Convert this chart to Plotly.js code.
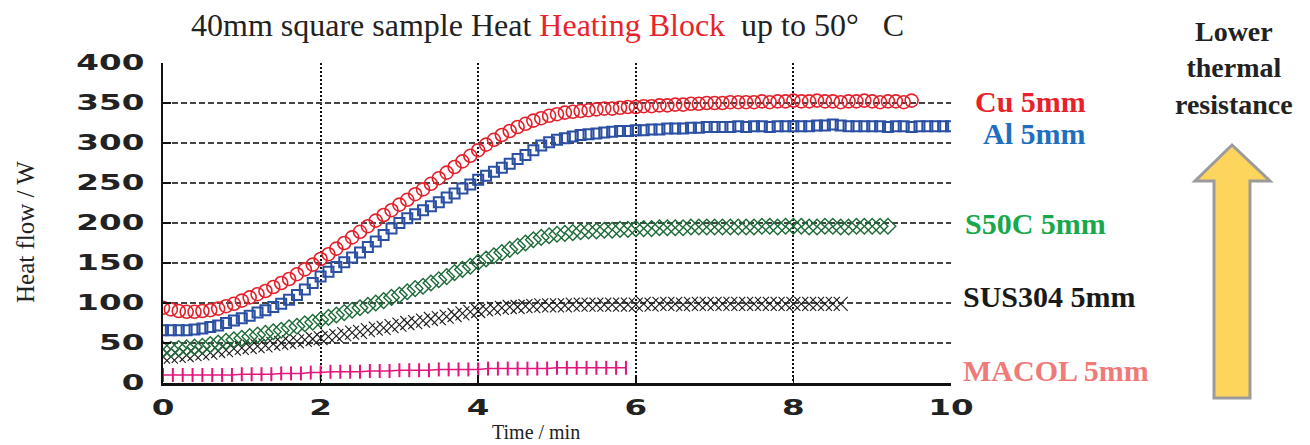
<!DOCTYPE html>
<html>
<head>
<meta charset="utf-8">
<script src="https://cdn.plot.ly/plotly-3.0.1.min.js"></script>
<style>
html,body{margin:0;padding:0;background:#fff;}
#chart{width:1310px;height:445px;}
</style>
</head>
<body>
<div id="chart"></div>
<script>
// ---- data ----
const minutes = [0.0,0.1,0.2,0.3,0.4,0.5,0.6,0.7,0.8,0.9,1.0,1.1,1.2,1.3,1.4,1.5,1.6,1.7,1.8,1.9,
  2.0,2.1,2.2,2.3,2.4,2.5,2.6,2.7,2.8,2.9,3.0,3.1,3.2,3.3,3.4,3.5,3.6,3.7,3.8,3.9,
  4.0,4.1,4.2,4.3,4.4,4.5,4.6,4.7,4.8,4.9,5.0,5.1,5.2,5.3,5.4,5.5,5.6,5.7,5.8,5.9,
  6.0,6.1,6.2,6.3,6.4,6.5,6.6,6.7,6.8,6.9,7.0,7.1,7.2,7.3,7.4,7.5,7.6,7.7,7.8,7.9,
  8.0,8.1,8.2,8.3,8.4,8.5,8.6,8.7,8.8,8.9,9.0,9.1,9.2,9.3,9.4,9.5,9.6,9.7,9.8,9.9,10.0];

const macolMinutes = [0,0.125,0.25,0.375,0.5,0.625,0.75,0.875,1,1.125,1.25,1.375,1.5,1.625,1.75,1.875,
  2,2.125,2.25,2.375,2.5,2.625,2.75,2.875,3,3.125,3.25,3.375,3.5,3.625,3.75,3.875,
  4,4.125,4.25,4.375,4.5,4.625,4.75,4.875,5,5.125,5.25,5.375,5.5,5.625,5.75,5.875];

const cu = [94,92,90,89,89,90,91,93,96,99,103,107,111,115,120,125,130,136,142,148,
  155,161,168,175,182,189,196,203,210,216,223,229,236,242,249,256,263,270,277,284,
  291,298,304,310,315,320,324,328,331,334,336,338,339,340,341,342,343,343,344,345,
  345,346,346,347,347,348,348,349,349,350,350,350,351,351,351,351,352,351,352,352,
  353,352,352,353,352,352,351,352,352,353,352,351,352,352,351,353];

const al = [66,66,66,66,67,68,70,72,75,78,81,84,88,91,95,99,104,110,117,125,
  133,139,145,151,157,163,170,177,185,193,200,206,211,216,221,226,232,237,243,248,
  254,259,264,269,274,280,285,291,297,301,304,306,308,310,311,312,313,314,315,315,
  316,316,317,317,318,318,318,319,319,320,320,320,320,321,320,321,321,320,321,321,
  321,321,321,322,322,323,322,321,321,321,321,321,320,321,321,320,321,321,321,321,321];

const s50c = [42,42,43,44,45,46,48,50,52,54,56,58,60,62,64,66,69,71,74,76,
  79,82,85,88,91,94,97,100,103,107,110,114,118,121,125,129,133,138,142,146,
  151,155,159,163,167,171,175,179,182,184,186,187,188,189,190,190,191,191,192,192,
  193,193,193,194,194,194,194,195,195,195,195,195,195,195,195,195,196,196,195,196,
  196,196,195,195,196,196,195,195,196,196,196,196,196];

const sus304 = [33,33,34,35,36,37,38,40,41,43,44,45,46,47,49,50,51,52,54,55,
  56,58,59,61,63,64,66,68,69,71,73,75,76,78,80,81,83,85,87,89,
  90,92,93,94,95,95,96,96,97,97,97,97,98,98,98,98,98,98,98,98,
  98,99,98,99,99,99,98,99,99,99,99,99,99,99,99,99,99,99,99,99,
  99,99,99,99,99,99,99];

const macol = [10,10,10,10,10,10,10,10,11,11,11,11,12,12,12,13,
  13,14,14,14,14,15,15,15,16,16,16,16,17,17,17,17,
  17,18,18,18,18,18,18,18,19,19,19,19,19,19,19,19];

const seriesLabels = ['Cu 5mm','Al 5mm','S50C 5mm','SUS304 5mm','MACOL 5mm'];
const xTickVals = [0,2,4,6,8,10];
const yTickVals = [0,50,100,150,200,250,300,350,400];

// ---- pixel helpers for placing page furniture ----
const L = 163, R = 951, T = 63, B = 383;
const px = x => (x - L) / (R - L);
const py = y => (B - y) / (B - T);

const traces = [
  {x: macolMinutes, y: macol, mode: 'lines+markers', name: seriesLabels[4],
   line: {color: '#e5147d', width: 1.5},
   marker: {symbol: 'line-ns-open', size: 10, color: '#e5147d', line: {color: '#e5147d', width: 2}}},
  {x: minutes.slice(0, sus304.length), y: sus304, mode: 'markers', name: seriesLabels[3],
   marker: {symbol: 'x-thin-open', size: 14, color: '#1a1a1a', line: {color: '#1a1a1a', width: 1.1}}},
  {x: minutes.slice(0, s50c.length), y: s50c, mode: 'markers', name: seriesLabels[2],
   marker: {symbol: 'diamond-open', size: 12, color: '#1d6b38', line: {color: '#1d6b38', width: 1.4}}},
  {x: minutes.slice(0, al.length), y: al, mode: 'markers', name: seriesLabels[1],
   marker: {symbol: 'square-open', size: 10, color: '#2a4fa3', line: {color: '#2a4fa3', width: 2}}},
  {x: minutes.slice(0, cu.length), y: cu, mode: 'markers', name: seriesLabels[0],
   marker: {symbol: 'circle-open', size: 13, color: '#e4212b', line: {color: '#e4212b', width: 1.6}}}
];

const serif = 'Liberation Serif, Times New Roman, serif';
const labelFont = (c) => ({family: serif, size: 30, color: c, weight: 'bold'});

const annotations = [
  {xref:'paper', yref:'paper', x: px(547), y: py(25), xanchor:'center', yanchor:'middle', showarrow:false,
   text: '40mm square sample Heat <span style="color:#e8232b">Heating Block</span>\u00a0\u00a0up to 50°\u00a0\u00a0\u00a0C',
   font: {family: serif, size: 32, color: '#222'}},
  {xref:'paper', yref:'paper', x: px(25), y: py(232), xanchor:'center', yanchor:'middle', showarrow:false,
   textangle: -90, text: 'Heat flow / W', font: {family: serif, size: 25, color: '#222'}},
  {xref:'paper', yref:'paper', x: px(536), y: py(432), xanchor:'center', yanchor:'middle', showarrow:false,
   text: 'Time / min', font: {family: serif, size: 20, color: '#222'}},
  {xref:'paper', yref:'paper', x: px(973), y: py(101), xanchor:'left', yanchor:'middle', showarrow:false,
   text: seriesLabels[0], font: labelFont('#e8212b')},
  {xref:'paper', yref:'paper', x: px(981), y: py(133), xanchor:'left', yanchor:'middle', showarrow:false,
   text: seriesLabels[1], font: labelFont('#1f6fbf')},
  {xref:'paper', yref:'paper', x: px(963), y: py(223), xanchor:'left', yanchor:'middle', showarrow:false,
   text: seriesLabels[2], font: labelFont('#18a84b')},
  {xref:'paper', yref:'paper', x: px(961), y: py(296), xanchor:'left', yanchor:'middle', showarrow:false,
   text: seriesLabels[3], font: labelFont('#1a1a1a')},
  {xref:'paper', yref:'paper', x: px(961), y: py(370), xanchor:'left', yanchor:'middle', showarrow:false,
   text: seriesLabels[4], font: labelFont('#f07a7a')},
  {xref:'paper', yref:'paper', x: px(1234), y: py(68), xanchor:'center', yanchor:'middle', showarrow:false,
   text: 'Lower<br>thermal<br>resistance', font: {family: serif, size: 28, color: '#222', weight: 'bold'}}
];

const arrowPts = [[1232,145],[1270,181],[1250,181],[1250,398],[1214,398],[1214,181],[1195,181]];
const arrowPath = 'M ' + arrowPts.map(p => px(p[0]) + ',' + py(p[1])).join(' L ') + ' Z';

const layout = {
  width: 1310, height: 445,
  margin: {l: L, r: 1310 - R, t: T, b: 445 - B, pad: 0},
  paper_bgcolor: '#fff', plot_bgcolor: '#fff',
  showlegend: false,
  xaxis: {
    range: [0, 10], tickvals: xTickVals, ticktext: xTickVals.map(String),
    showgrid: true, gridcolor: '#111', gridwidth: 2, griddash: '2px,2px',
    zeroline: false, showline: true, linecolor: '#111', linewidth: 2.5,
    ticks: 'inside', ticklen: 8, tickwidth: 1.5, tickcolor: '#111',
    tickfont: {family: 'DejaVu Sans', size: 21, color: '#222', weight: 'bold'},
    ticklabelstandoff: 4
  },
  yaxis: {
    range: [0, 400], tickvals: yTickVals, ticktext: yTickVals.map(String),
    showgrid: true, gridcolor: '#444', gridwidth: 1.3, griddash: '6px,3px',
    zeroline: false, showline: true, linecolor: '#111', linewidth: 2.5,
    ticks: 'inside', ticklen: 8, tickwidth: 1.5, tickcolor: '#111',
    tickfont: {family: 'DejaVu Sans', size: 21, color: '#222', weight: 'bold'},
    ticklabelstandoff: 12
  },
  yaxis2: {
    overlaying: 'y', side: 'right', range: [0, 400], tickvals: yTickVals,
    showticklabels: false, showgrid: false, zeroline: false, showline: false,
    ticks: 'inside', ticklen: 8, tickwidth: 1.5, tickcolor: '#111'
  },
  annotations: annotations,
  shapes: [
    {type: 'path', xref: 'paper', yref: 'paper', path: arrowPath,
     fillcolor: '#fdd55c', line: {color: '#9b9b9b', width: 3}, layer: 'above'}
  ]
};

Plotly.newPlot('chart', traces, layout, {staticPlot: true, displayModeBar: false}).then(gd => {
  // widen the tick label glyphs to match the extended face of the original
  gd.querySelectorAll('.ytick text').forEach(t => {
    const b = t.getBBox();
    const cx = b.x + b.width;
    t.setAttribute('transform', (t.getAttribute('transform') || '') +
      ` translate(${cx},0) scale(1.55,1) translate(${-cx},0)`);
  });
  gd.querySelectorAll('.xtick text').forEach(t => {
    const b = t.getBBox();
    const cx = b.x + b.width / 2;
    t.setAttribute('transform', (t.getAttribute('transform') || '') +
      ` translate(${cx},0) scale(1.55,1) translate(${-cx},0)`);
  });
});
</script>
</body>
</html>
